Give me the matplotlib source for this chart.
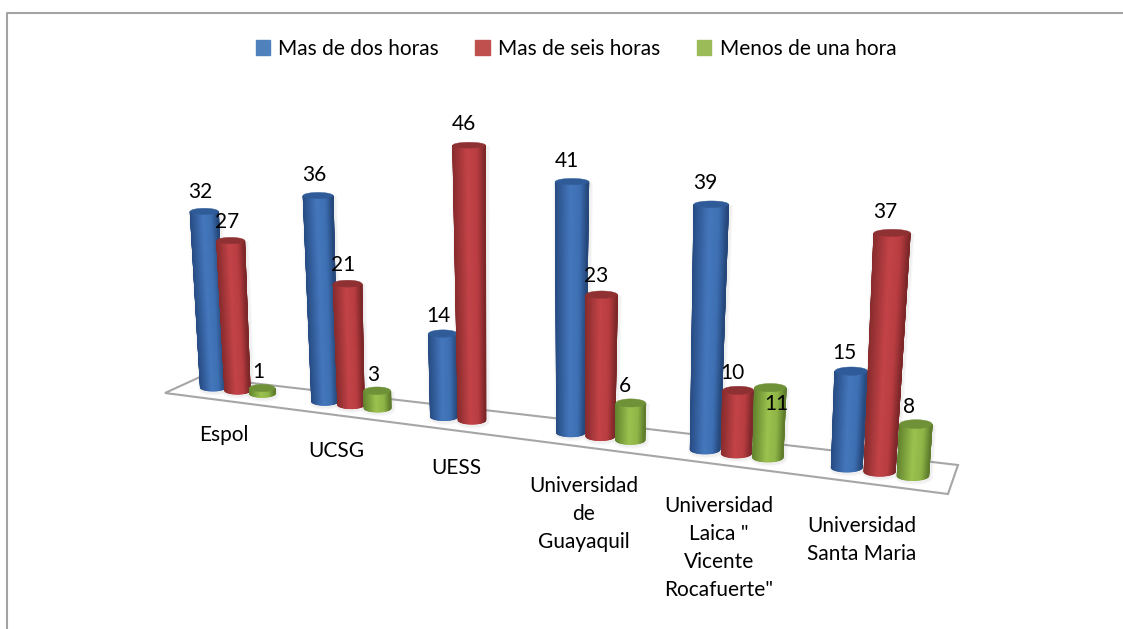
import numpy as np
import matplotlib
matplotlib.use('Agg')
import matplotlib.pyplot as plt
from matplotlib.colors import LinearSegmentedColormap
from matplotlib.patches import Patch, Polygon

plt.rcParams['font.family'] = ['Lato', 'DejaVu Sans']

categories = ['Espol', 'UCSG', 'UESS', 'Universidad\nde\nGuayaquil',
              'Universidad\nLaica "\nVicente\nRocafuerte"', 'Universidad\nSanta Maria']
series_names = ['Mas de dos horas', 'Mas de seis horas', 'Menos de una hora']
dos_horas = [32, 36, 14, 41, 39, 15]
seis_horas = [27, 21, 46, 23, 10, 37]
una_hora = [1, 3, 0, 6, 11, 8]

legend_colors = ['#4f81bd', '#c0504d', '#9bbb59']
side_colors = [['#284d85', '#4577bd', '#3e6fb3', '#25477a'],
               ['#8a2c2e', '#c44448', '#b83d41', '#7d2729'],
               ['#64852f', '#9cc24f', '#8fb547', '#5f7d2d']]
cap_colors = ['#2f5c99', '#8f3133', '#6f9138']

VP_X, VP_Y = 540.0, 7000.0   # where the upright edges meet


def floor_x(u):
    return 213 + 108.1 * u + 3.73 * u ** 2


def floor_y(x):
    return 391 + (x - 213) * 0.1278


def draw_cylinder(ax, u, value, cols, cap):
    x_bot = floor_x(u)
    d = x_bot - 213
    a_bot = 12.5 + 0.0045 * d
    b_bot = a_bot * 0.29
    y_bot = floor_y(x_bot) - b_bot
    h = (5.5 + 0.0021 * d - 1e-6 * d ** 2) * value
    y_top = y_bot - h
    x_top = x_bot + (x_bot - VP_X) * h / (VP_Y - y_bot)
    a_top = a_bot * (1 + 0.0007 * h)
    b_top = a_top * (0.29 - 0.0004 * h)

    theta = np.linspace(np.pi, 0, 41)
    xt = x_top + a_top * np.cos(theta)
    yt = y_top + b_top * np.sin(theta)
    xb = x_bot + a_bot * np.cos(theta)
    yb = y_bot + b_bot * np.sin(theta)

    # soft halo around the bar
    outline = np.column_stack([np.r_[xt, xb[::-1]], np.r_[yt, yb[::-1]]])
    for lw, al in [(5, 0.05), (3, 0.07)]:
        ax.add_patch(Polygon(outline + [1, 1], closed=True, fill=False, ec='#808080',
                             lw=lw, alpha=al, zorder=3))

    cmap = LinearSegmentedColormap.from_list('side', list(zip([0, 0.45, 0.75, 1], cols)))
    shade = np.cos(theta) / 2 + 0.5
    ax.pcolormesh(np.vstack([xt, xb]), np.vstack([yt, yb]), np.vstack([shade, shade]),
                  cmap=cmap, vmin=0, vmax=1, shading='gouraud', zorder=3)
    t = np.linspace(0, 2 * np.pi, 60)
    ax.fill(x_top + a_top * np.cos(t), y_top + b_top * np.sin(t), color=cap, lw=0.3, zorder=3)
    return x_top, y_top - b_top


fig = plt.figure(figsize=(11.23, 6.29), dpi=100)
ax = fig.add_axes([0, 0, 1, 1])
ax.set_xlim(0, 1123)
ax.set_ylim(629, 0)
ax.axis('off')

# chart frame, only top and left show in the crop
ax.plot([7, 7, 1123], [629, 13, 13], color='#a3a3a3', lw=1.5, zorder=1)

# floor of the 3d chart
ax.add_patch(Polygon([(165, 393), (200, 377), (958, 465), (948, 494)], closed=True,
                     fc='white', ec='#a6a6a6', lw=1.5, zorder=2))

values = [dos_horas, seis_horas, una_hora]
label_pos = []
for i in range(len(categories)):
    for j in range(3):
        v = values[j][i]
        if v == 0:
            continue
        xlab, ylab = draw_cylinder(ax, i + j * 0.225, v, side_colors[j], cap_colors[j])
        label_pos.append((xlab, ylab, v))

for xlab, ylab, v in label_pos:
    dx, dy = -2.5 - 0.005 * xlab, -12 - 0.14 * v
    if v == 11:  # this one sits on the bar in the original
        dx, dy = 6, 20
    ax.text(xlab + dx, ylab + dy, str(v), ha='center', va='center', fontsize=15,
            color='black', zorder=5)

for i, name in enumerate(categories):
    x = floor_x(i + 0.1)
    y = floor_y(x) + 33 + 0.014 * (x - 224)
    ax.text(x, y, name, ha='center', va='top', fontsize=15, linespacing=1.5,
            color='black', zorder=5)

handles = [Patch(color=c, label=n) for c, n in zip(legend_colors, series_names)]
ax.legend(handles=handles, loc='center', bbox_to_anchor=(576 / 1123, 1 - 49 / 629), ncol=3,
          frameon=False, fontsize=15, handlelength=0.7, handleheight=0.7,
          handletextpad=0.4, columnspacing=1.74, borderpad=0)

fig.savefig('out.png', dpi=100)
